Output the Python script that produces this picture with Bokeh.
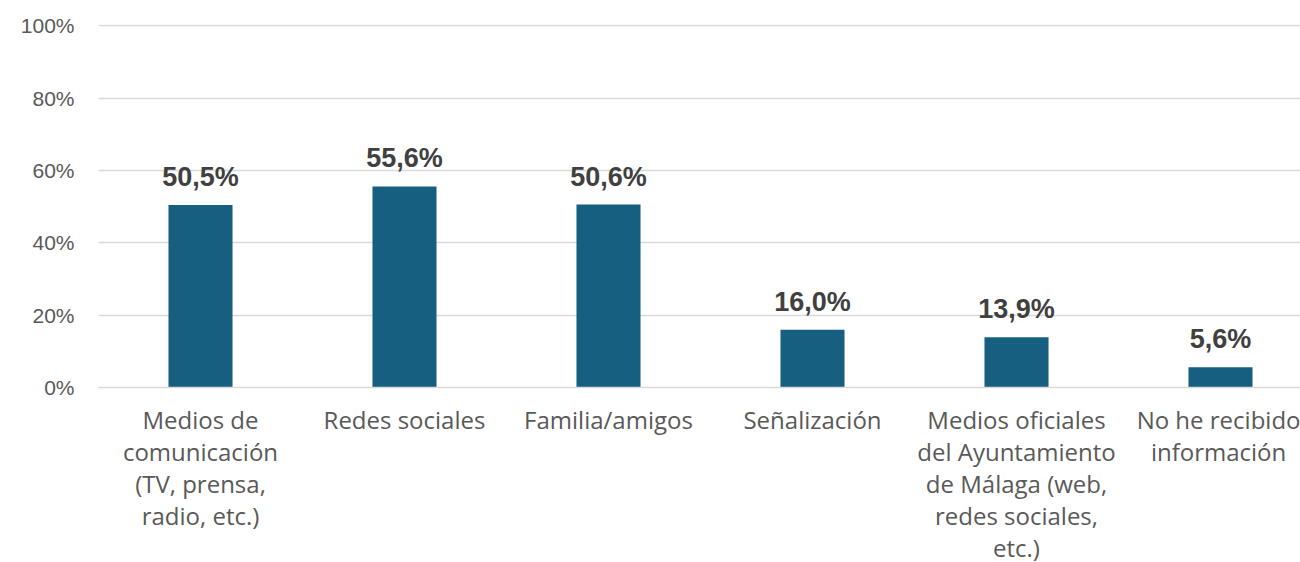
from bokeh.plotting import figure
from bokeh.models import ColumnDataSource, Range1d, FixedTicker, PrintfTickFormatter
from bokeh.core.properties import value
from bokeh.embed import file_html
from bokeh.resources import INLINE

categories = [
    "Medios de\ncomunicación\n(TV, prensa,\nradio, etc.)",
    "Redes sociales",
    "Familia/amigos",
    "Señalización",
    "Medios oficiales\ndel Ayuntamiento\nde Málaga (web,\nredes sociales,\netc.)",
    "No he recibido\ninformación",
]
values = [50.5, 55.6, 50.6, 16.0, 13.9, 5.6]
y_ticks = [0, 20, 40, 60, 80, 100]

xs = [i + 0.5 for i in range(len(categories))]
labels = [f"{v:.1f}".replace(".", ",") + "%" for v in values]
src = ColumnDataSource(dict(x=xs, top=values, label=labels))

p = figure(
    frame_width=1202, frame_height=363,
    min_border_left=98, min_border_right=0, min_border_top=24, min_border_bottom=0,
    x_range=Range1d(0, 1202 / 204), y_range=Range1d(0, 100.4),
    output_backend="svg", toolbar_location=None, tools="",
)
p.outline_line_color = None
p.background_fill_color = "white"
p.border_fill_color = "white"

p.vbar(x="x", top="top", width=0.314, bottom=0, source=src,
       fill_color="#175F80", line_color=None)
p.text(x="x", y="top", text="label", source=src,
       text_align="center", text_baseline="bottom", y_offset=-13,
       text_font=value("Liberation Sans"), text_font_style="bold",
       text_font_size="27px", text_color="#404040")

# y axis
p.yaxis.ticker = FixedTicker(ticks=y_ticks)
p.yaxis.formatter = PrintfTickFormatter(format="%d%%")
p.yaxis.axis_line_color = None
p.yaxis.major_tick_line_color = None
p.yaxis.minor_tick_line_color = None
p.yaxis.major_tick_out = 0
p.yaxis.major_tick_in = 0
p.yaxis.major_label_standoff = 24
p.yaxis.major_label_text_font = "Liberation Sans"
p.yaxis.major_label_text_font_size = "21px"
p.yaxis.major_label_text_color = "#595959"

# x axis
p.xaxis.ticker = FixedTicker(ticks=xs)
p.xaxis.major_label_overrides = {x: c for x, c in zip(xs, categories)}
p.xaxis.axis_line_color = "#d9d9d9"
p.xaxis.axis_line_width = 1.5
p.xaxis.major_tick_line_color = None
p.xaxis.minor_tick_line_color = None
p.xaxis.major_tick_out = 0
p.xaxis.major_tick_in = 0
p.xaxis.major_label_standoff = 15
p.xaxis.major_label_text_font = "Open Sans"
p.xaxis.major_label_text_font_size = "24px"
p.xaxis.major_label_text_color = "#595959"
p.xaxis.major_label_text_line_height = 0.97

p.xgrid.grid_line_color = None
p.ygrid.grid_line_color = "#d9d9d9"
p.ygrid.grid_line_width = 1.5

open("out.html", "w").write(file_html(p, INLINE))
